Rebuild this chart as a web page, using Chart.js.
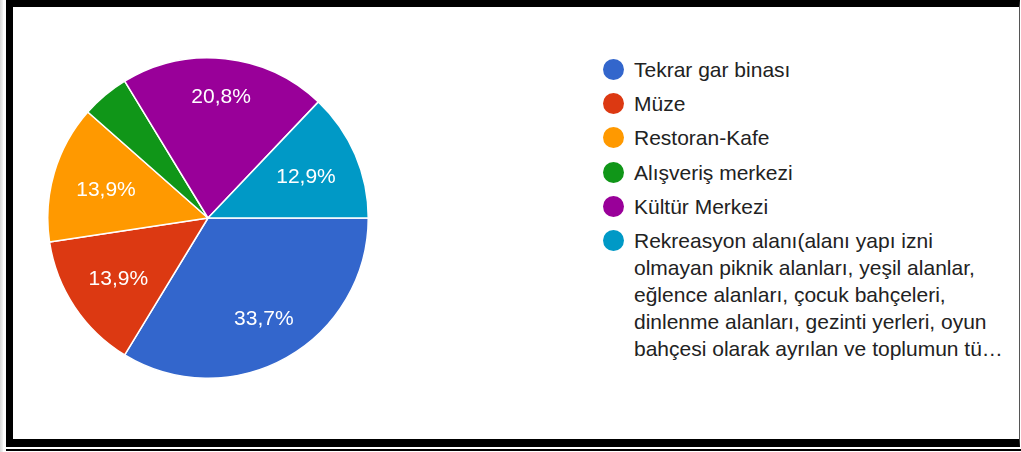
<!DOCTYPE html>
<html>
<head>
<meta charset="utf-8">
<script src="https://cdn.jsdelivr.net/npm/chart.js@4/dist/chart.umd.min.js"></script>
<style>
  html, body { margin: 0; padding: 0; background: #ffffff; }
  body { width: 1021px; height: 452px; position: relative; overflow: hidden; font-family: "Liberation Sans", Arial, sans-serif; }
  #edge { position: absolute; left: 0; top: 0; width: 3px; height: 452px; background: linear-gradient(to right, #d8d8d8, #f4f4f4); }
  #frame { position: absolute; left: 6px; top: 0; width: 1014px; height: 447px; box-sizing: border-box;
           border-left: 7px solid #000; border-top: 7px solid #000; border-bottom: 8px solid #000; border-right: 1px solid #555; }
  #bline { position: absolute; left: 6px; top: 449px; width: 1015px; height: 2px; background: #000; }
  #pie { position: absolute; left: 47px; top: 57px; width: 322px; height: 322px; }
  #legend { position: absolute; left: 603px; top: 56px; width: 410px; }
  .item { display: flex; align-items: flex-start; margin-bottom: 7.2px; }
  .dot { width: 21px; height: 21px; border-radius: 50%; margin-top: 3px; margin-right: 10px; flex: none; }
  .txt { font-size: 21px; line-height: 27px; color: #222222; white-space: nowrap; }
</style>
</head>
<body>
<div id="edge"></div>
<div id="frame"></div>
<div id="bline"></div>
<div id="pie"><canvas id="c"></canvas></div>
<div id="legend"></div>
<script>
const categories = [
  "Tekrar gar binası",
  "Müze",
  "Restoran-Kafe",
  "Alışveriş merkezi",
  "Kültür Merkezi",
  ["Rekreasyon alanı(alanı yapı izni",
   "olmayan piknik alanları, yeşil alanlar,",
   "eğlence alanları, çocuk bahçeleri,",
   "dinlenme alanları, gezinti yerleri, oyun",
   "bahçesi olarak ayrılan ve toplumun tü…"]
];
const percentages = [33.7, 13.9, 13.9, 4.8, 20.8, 12.9];
const colors = ["#3366cc", "#dc3912", "#ff9900", "#109618", "#990099", "#0099c6"];

const FONT = '"Liberation Sans", Arial, sans-serif';

const sliceLabels = {
  id: 'sliceLabels',
  afterDatasetsDraw(chart) {
    const ctx = chart.ctx;
    const meta = chart.getDatasetMeta(0);
    const vals = chart.data.datasets[0].data;
    ctx.save();
    ctx.font = '21px ' + FONT;
    ctx.fillStyle = '#ffffff';
    ctx.textAlign = 'center';
    ctx.textBaseline = 'alphabetic';
    const capH = 21 * 0.716;
    meta.data.forEach((arc, i) => {
      const v = vals[i];
      if (v < 5) return;
      const p = arc.getProps(['x', 'y', 'startAngle', 'endAngle', 'outerRadius'], true);
      const mid = (p.startAngle + p.endAngle) / 2;
      const c = Math.cos(mid), s = Math.sin(mid);
      const text = v.toFixed(1).replace('.', ',') + '%';
      const w = ctx.measureText(text).width / 2;
      const h = capH / 2;
      const R = 0.855 * p.outerRadius;
      const b = w * Math.abs(c) + h * Math.abs(s);
      const d = -b + Math.sqrt(b * b + R * R - w * w - h * h);
      ctx.fillText(text, p.x + d * c, p.y + d * s + h);
    });
    ctx.restore();
  }
};

const htmlLegend = {
  id: 'htmlLegend',
  afterUpdate(chart) {
    const box = document.getElementById('legend');
    box.innerHTML = '';
    const ds = chart.data.datasets[0];
    chart.data.labels.forEach((lab, i) => {
      const item = document.createElement('div');
      item.className = 'item';
      const dot = document.createElement('span');
      dot.className = 'dot';
      dot.style.background = ds.backgroundColor[i];
      const txt = document.createElement('span');
      txt.className = 'txt';
      const lines = Array.isArray(lab) ? lab : [lab];
      lines.forEach((ln, k) => {
        if (k) txt.appendChild(document.createElement('br'));
        txt.appendChild(document.createTextNode(ln));
      });
      item.appendChild(dot);
      item.appendChild(txt);
      box.appendChild(item);
    });
  }
};

new Chart(document.getElementById('c'), {
  type: 'pie',
  data: {
    labels: categories,
    datasets: [{
      data: percentages,
      backgroundColor: colors,
      borderColor: '#ffffff',
      borderWidth: 1.5
    }]
  },
  options: {
    responsive: true,
    maintainAspectRatio: false,
    animation: false,
    rotation: 90,
    layout: { padding: 0 },
    plugins: {
      legend: { display: false },
      tooltip: { enabled: false }
    }
  },
  plugins: [sliceLabels, htmlLegend]
});
</script>
</body>
</html>
